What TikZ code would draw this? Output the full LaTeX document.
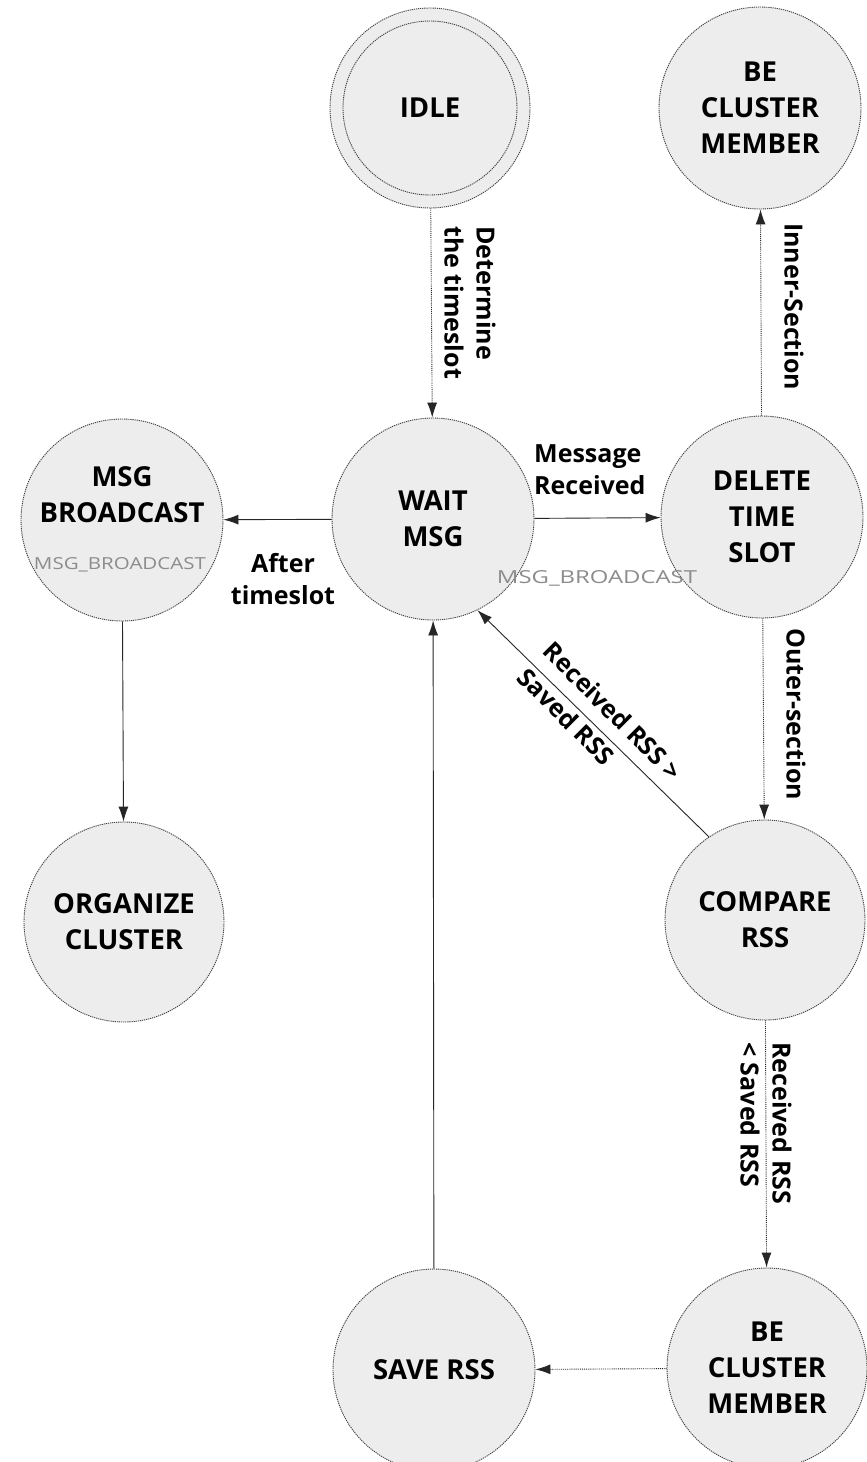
\documentclass[tikz,border=0pt]{standalone}
\usepackage{fontspec}
\setmainfont{Open Sans}
\usepackage{graphicx}
\usetikzlibrary{arrows.meta}
\tikzset{
  nodefont/.style={font=\fontsize{27.5}{36}\selectfont\bfseries},
  state/.style={circle, draw=black!75, line width=0.9pt, dash pattern=on 1.2pt off 0.9pt,
    fill=black!7, inner sep=0pt, minimum size=#1, align=center, nodefont},
  state/.default=202pt,
  ring/.style={draw=black!75, line width=0.9pt, dash pattern=on 1.2pt off 0.9pt},
  tr/.style={-{Latex[length=15pt,width=10pt]}, line width=0.9pt, draw=black!85},
  trd/.style={tr, densely dotted},
  lbl/.style={font=\fontsize{25}{32}\selectfont\bfseries, inner sep=0pt},
  ghost/.style={text=black!45, inner sep=0pt, font=\fontsize{14}{14}\selectfont}
}
\begin{document}
\begin{tikzpicture}[x=1pt,y=-1pt]
\fill[white] (0,0) rectangle (867,1462);
\path[use as bounding box] (0,0) rectangle (867,1462);

% states
\node[state=200pt] (idle) at (430,108) {IDLE};
\draw[ring] (idle.center) circle[radius=87pt];
\node[state] (be1) at (760,108) {BE\\CLUSTER\\MEMBER};
\node[state] (msgb) at (122,520) {};
\node[nodefont, align=center, inner sep=0pt] (msgbt) at (122,495) {MSG\\BROADCAST};
\node[ghost] (g1) at (120,565) {\resizebox{172pt}{12pt}{MSG\_BROADCAST}};
\node[state] (wait) at (433,519) {WAIT\\MSG};
\node[state] (del) at (762,517) {DELETE\\TIME\\SLOT};
\node[ghost] (g2) at (597,578) {\resizebox{200pt}{13pt}{MSG\_BROADCAST}};
\node[state=200pt] (org) at (124,922) {ORGANIZE\\CLUSTER};
\node[state=200pt] (cmp) at (765,920) {COMPARE\\RSS};
\node[state] (save) at (434,1370) {SAVE RSS};
\node[state=200pt] (be2) at (767,1368) {BE\\CLUSTER\\MEMBER};

% transitions
\draw[trd] (idle) -- (wait);
\draw[trd] (del) -- (be1);
\draw[tr] (wait) -- (msgb);
\draw[tr] (wait) -- (del);
\draw[trd] (del) -- (cmp);
\draw[tr] (cmp.124) -- (wait.-64);
\draw[tr] (msgb) -- (org);
\draw[trd] (cmp) -- (be2);
\draw[trd] (be2) -- (save);
\draw[tr] (save) -- (wait);

% labels
\node[lbl, rotate=-90, anchor=west, align=left] (l1) at (470,226) {Determine\\the timeslot};
\node[lbl, rotate=-90, anchor=west] (l2) at (794,223) {Inner-Section};
\node[lbl, align=left, anchor=west] (l3) at (534,470) {Message\\Received};
\node[lbl, align=center] (l4) at (283,579) {After\\timeslot};
\node[lbl, rotate=-90, anchor=west] (l5) at (796,628) {Outer-section};
\node[lbl, rotate=-45, align=left, font=\fontsize{25}{37}\selectfont\bfseries] (l6) at (600,724) {Received RSS >\\Saved RSS};
\node[lbl, rotate=-90, anchor=west, align=left] (l7) at (766,1042) {Received RSS\\< Saved RSS};
\end{tikzpicture}
\end{document}
